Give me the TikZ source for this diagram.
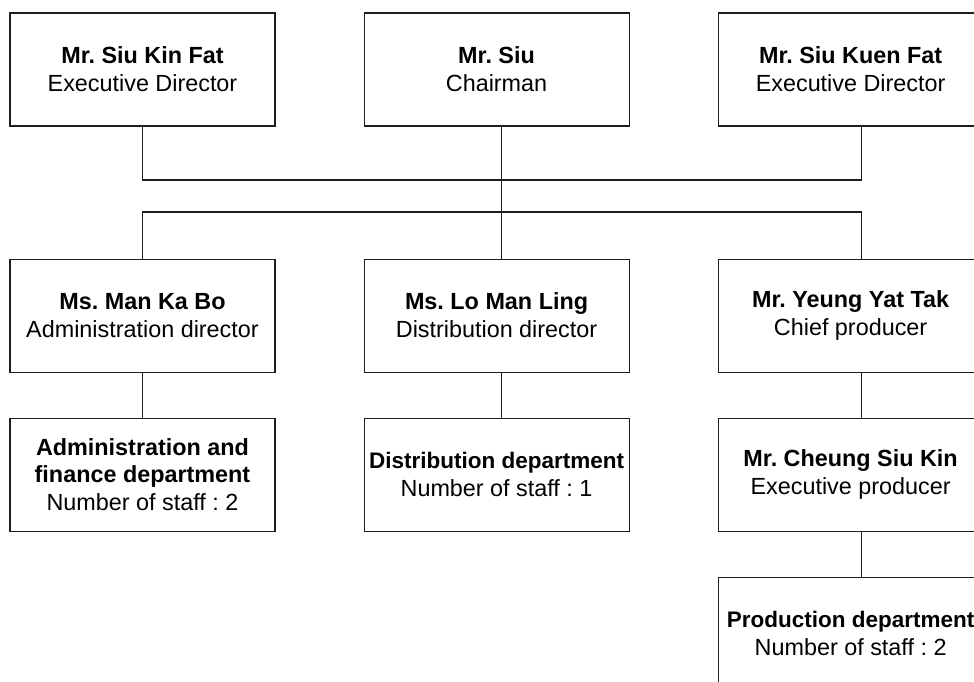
\documentclass[tikz,border=0pt]{standalone}
\usepackage{fontspec}
\setmainfont{Liberation Sans}
\usepackage{xcolor}
\usepackage{tikz}
\usetikzlibrary{positioning,calc}
\definecolor{myline}{RGB}{30,30,30}
\newcommand{\deptname}[1]{{\fontsize{12.8}{15.9}\selectfont\textbf{#1}}}
\frenchspacing

\begin{document}
\begin{tikzpicture}[node distance=1.76cm, line width=0.6pt]
    \tikzstyle{box}=[draw=myline, minimum width=5.3cm, minimum height=2.26cm, inner sep=0pt, align=center, font=\fontsize{13.3}{15.9}\selectfont]
    \clip (0,0) rectangle (19.48,-13.62);
    % Board
    \node[box] (kinfat) at (2.85,-1.39) {\textbf{Mr. Siu Kin Fat}\\Executive Director};
    \node[box, right=of kinfat] (chair) {\textbf{Mr. Siu}\\Chairman};
    \node[box, right=of chair] (kuenfat) {\textbf{Mr. Siu Kuen Fat}\\Executive Director};
    % Directors
    \node[box, below=2.64cm of kinfat] (manka) {\textbf{Ms. Man Ka Bo}\\Administration director};
    \node[box, below=2.64cm of chair] (loman) {\textbf{Ms. Lo Man Ling}\\Distribution director};
    \node[box, below=2.64cm of kuenfat] (yeung) {\textbf{Mr. Yeung Yat Tak}\\Chief producer};
    % Departments
    \node[box, below=0.9cm of manka] (admindept) {\textbf{Administration and}\\\textbf{finance department}\\Number of staff : 2};
    \node[box, below=0.9cm of loman] (distdept) {\deptname{Distribution department}\\Number of staff : 1};
    \node[box, below=0.9cm of yeung] (cheung) {\textbf{Mr. Cheung Siu Kin}\\Executive producer};
    \node[box, below=0.9cm of cheung] (proddept) {\deptname{Production department}\\Number of staff : 2};
    % Buses
    \coordinate (upbus) at (0,-3.6);
    \coordinate (lowbus) at (0,-4.24);
    \coordinate (kuenx) at ([xshift=0.22cm]kuenfat.south);
    \coordinate (yeungx) at ([xshift=0.22cm]yeung.north);
    \draw[myline] (kinfat.south) |- (upbus -| kuenx) -- (kuenx);
    \draw[myline] (manka.north) |- (lowbus -| yeungx) -- (yeungx);
    \draw[myline] ([xshift=0.1cm]chair.south) -- ([xshift=0.1cm]loman.north);
    % Down to departments
    \draw[myline] (manka) -- (admindept);
    \draw[myline] ([xshift=0.1cm]loman.south) -- ([xshift=0.1cm]distdept.north);
    \draw[myline] ([xshift=0.22cm]yeung.south) -- ([xshift=0.22cm]cheung.north);
    \draw[myline] ([xshift=0.22cm]cheung.south) -- ([xshift=0.22cm]proddept.north);
\end{tikzpicture}
\end{document}
